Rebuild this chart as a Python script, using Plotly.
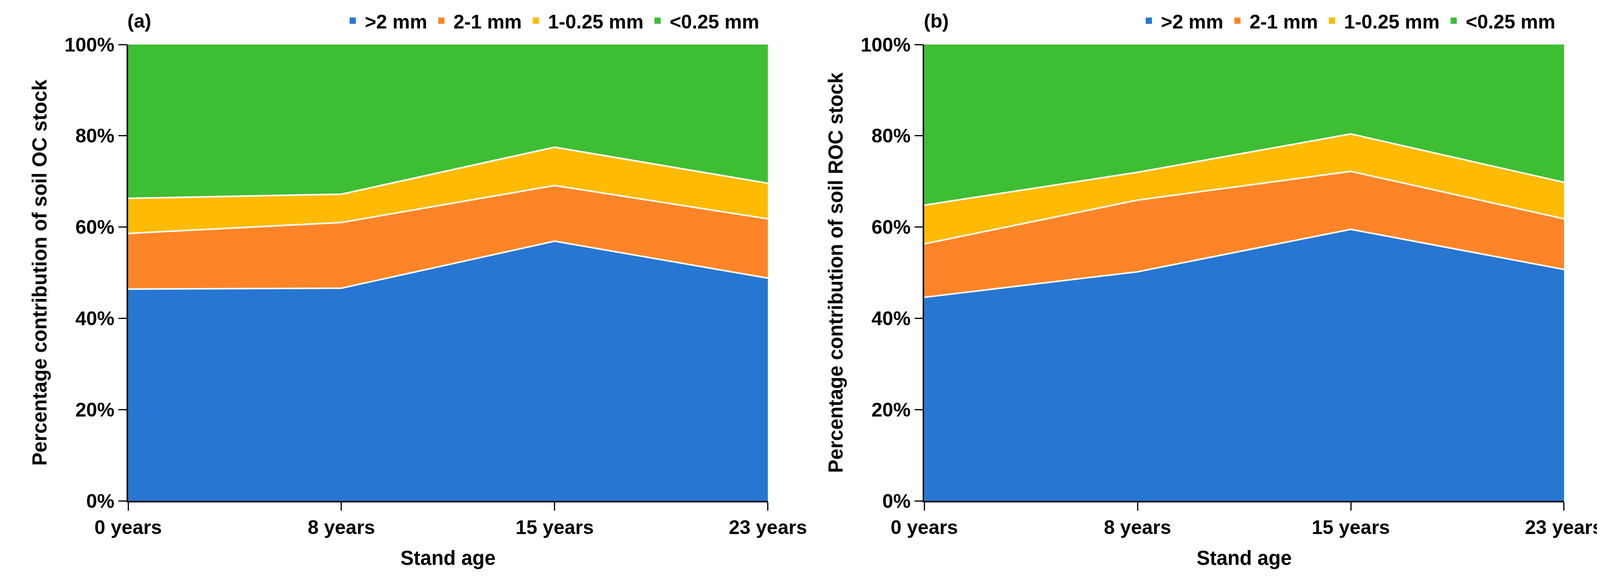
import plotly.graph_objects as go

ages = ["0 years", "8 years", "15 years", "23 years"]
classes = [">2 mm", "2-1 mm", "1-0.25 mm", "<0.25 mm"]
colors = ["#2776D2", "#FE8527", "#FFBB02", "#3EBE33"]

# (a) soil OC stock, % contribution of each aggregate size class
oc_gt2 = [46.4, 46.6, 56.9, 48.8]
oc_2_1 = [12.2, 14.4, 12.2, 13.0]
oc_1_025 = [7.7, 6.2, 8.4, 7.8]
oc_lt025 = [33.7, 32.8, 22.5, 30.4]

# (b) soil ROC stock
roc_gt2 = [44.6, 50.2, 59.5, 50.7]
roc_2_1 = [11.7, 15.7, 12.7, 11.1]
roc_1_025 = [8.5, 6.1, 8.2, 8.0]
roc_lt025 = [35.2, 28.0, 19.6, 30.2]

y_ticks = [0, 20, 40, 60, 80, 100]
y_ticktext = [f"{v}%" for v in y_ticks]

OFF = 8                   # page body margin
W, H = 4120, 1460         # figure kept inside the window (no scrollbars)
FONT = "Liberation Sans"
SX = 0.9932               # slight horizontal compression so right labels fit


def sx(px):
    """target screen x, compressed about the left axis"""
    return 328 + (px - 328) * SX


fig = go.Figure()

panels = [
    ("x", "y", "A", [oc_gt2, oc_2_1, oc_1_025, oc_lt025], "legend"),
    ("x2", "y2", "B", [roc_gt2, roc_2_1, roc_1_025, roc_lt025], "legend2"),
]

for xa, ya, grp, series, leg in panels:
    for i, (name, vals) in enumerate(zip(classes, series)):
        fig.add_trace(go.Scatter(
            x=ages, y=vals, name=name, mode="lines",
            stackgroup=grp, xaxis=xa, yaxis=ya,
            line=dict(color="white", width=0 if i == 3 else 4),
            fillcolor=colors[i], showlegend=False, hoverinfo="skip",
        ))
    for i, name in enumerate(classes):
        fig.add_trace(go.Scatter(
            x=[None], y=[None], name=name, mode="markers",
            marker=dict(symbol="square", size=26, color=colors[i]),
            xaxis=xa, yaxis=ya, legend=leg, showlegend=True,
        ))

# target screen positions (px) converted to figure px
L = 328 - OFF
T = 114 - OFF
R = W - (sx(4029) - OFF)
B = H - (1283 - OFF)
pw = W - L - R
ph = H - T - B
da = [0, (sx(1977) - OFF - L) / pw]
db = [(sx(2380) - OFF - L) / pw, 1]


def px_x(px):
    return (sx(px) - OFF - L) / pw


def px_y(py):
    return (H - B - (py - OFF)) / ph


tfont = dict(family=FONT, size=50, color="black", weight="bold")
titfont = dict(family=FONT, size=51, color="black", weight="bold")

axis_common_x = dict(
    type="category", range=[0, 3], showline=True, linewidth=4, linecolor="black",
    ticks="outside", ticklen=21, tickwidth=3, tickcolor="black",
    showgrid=False, zeroline=False, tickfont=tfont,
    title=dict(text="Stand age", font=titfont, standoff=34),
)
axis_common_y = dict(
    range=[0, 100], tickvals=y_ticks, ticktext=y_ticktext,
    showline=True, linewidth=4, linecolor="black",
    ticks="outside", ticklen=21, tickwidth=3, tickcolor="black",
    showgrid=False, zeroline=False, ticklabelstandoff=0, tickfont=tfont,
)

legfont = dict(family=FONT, size=50, color="black", weight="bold")

fig.update_layout(
    width=W, height=H,
    margin=dict(l=L, r=R, t=T, b=B, autoexpand=False),
    paper_bgcolor="white", plot_bgcolor="white",
    xaxis=dict(domain=da, anchor="y", **axis_common_x),
    xaxis2=dict(domain=db, anchor="y2", **axis_common_x),
    yaxis=dict(anchor="x", **axis_common_y,
               title=dict(text="Percentage contribution of soil OC stock",
                          font=titfont, standoff=30)),
    yaxis2=dict(anchor="x2", **axis_common_y,
                title=dict(text="Percentage contribution of soil ROC stock",
                           font=titfont, standoff=30)),
    legend=dict(orientation="h", x=(sx(1960) - OFF) / W, xref="container", xanchor="right",
                y=1 - (53 - OFF) / H, yref="container", yanchor="middle",
                traceorder="normal", itemwidth=52,
                font=legfont, bgcolor="rgba(0,0,0,0)", itemclick=False),
    legend2=dict(orientation="h", x=(sx(4012) - OFF) / W, xref="container", xanchor="right",
                 y=1 - (53 - OFF) / H, yref="container", yanchor="middle",
                 traceorder="normal", itemwidth=52,
                 font=legfont, bgcolor="rgba(0,0,0,0)", itemclick=False),
    showlegend=True,
    annotations=[
        dict(text="(a)", x=px_x(324), y=px_y(54), xref="paper", yref="paper",
             xanchor="left", yanchor="middle", showarrow=False,
             font=dict(family=FONT, size=50, color="black", weight="bold")),
        dict(text="(b)", x=px_x(2377), y=px_y(54), xref="paper", yref="paper",
             xanchor="left", yanchor="middle", showarrow=False,
             font=dict(family=FONT, size=50, color="black", weight="bold")),
    ],
)

fig.write_html("out.html")
